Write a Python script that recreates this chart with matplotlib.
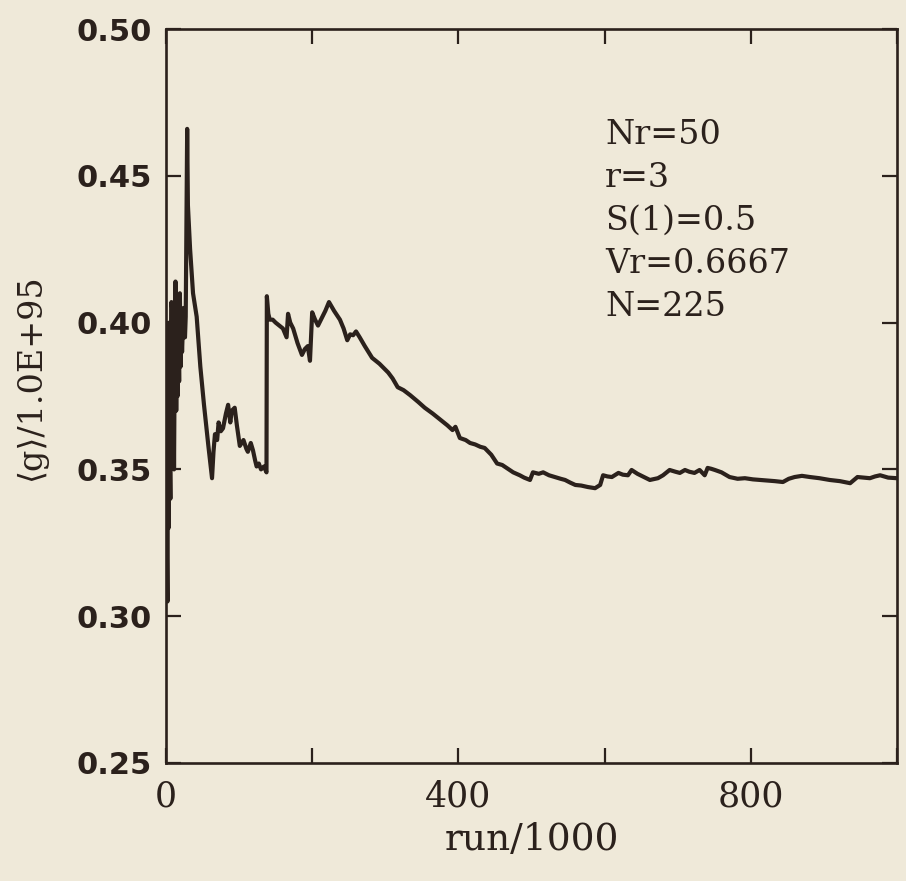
import matplotlib
matplotlib.use("Agg")
import matplotlib.pyplot as plt
import numpy as np

# running mean of g
run = [0, 0.5, 1, 1.5, 2, 2.5, 3, 3.5, 4, 4.5, 5, 5.5, 6, 6.5, 7, 7.5, 8, 8.5,
       9, 9.5, 10, 11, 12, 13, 14, 15, 16, 17, 18, 19,
       20, 21, 22, 23, 24, 25, 26, 27, 29, 30, 33, 37, 42, 47, 52, 58, 63,
       65, 67, 70, 72, 75, 78, 82, 85, 88, 90, 94, 97, 101, 106, 110, 112, 116,
       119, 122, 124, 127, 130, 134, 137.5,
       138, 140, 142, 146, 150, 155, 160, 165, 167, 170, 174, 180, 186, 190,
       194, 197, 200, 204, 208, 213, 218, 223,
       230, 238, 243, 248, 252, 256, 260, 265, 272, 282, 292, 304, 310, 317,
       325, 334, 345, 354, 365, 375, 385, 392, 396, 402, 410, 416,
       423, 430, 436, 445, 453, 460, 466, 475, 484, 490, 498, 502, 510, 516,
       524, 532, 540, 546, 553, 560, 568, 577, 587, 594,
       598, 604, 610, 619, 625, 632, 637, 645, 653, 662, 673, 680, 689, 697,
       703, 710, 716, 723, 730, 737, 741, 746, 751, 760, 771, 782, 792, 803,
       813, 822, 833, 844, 852, 860, 870, 881, 894, 908, 922, 936, 946, 955,
       963, 970, 977, 988, 1000]
g = [0.370, 0.400, 0.385, 0.320, 0.305, 0.390, 0.380, 0.330, 0.345, 0.400,
     0.395, 0.350, 0.340, 0.390, 0.385, 0.407, 0.405, 0.360, 0.370, 0.395,
     0.390, 0.350, 0.390, 0.414, 0.370, 0.400, 0.375, 0.395, 0.380, 0.410,
     0.385, 0.400, 0.390, 0.398, 0.405, 0.395, 0.395, 0.402, 0.466, 0.440,
     0.425, 0.410, 0.402, 0.385, 0.372, 0.358, 0.347,
     0.356, 0.362, 0.360, 0.366, 0.363, 0.364, 0.369, 0.372, 0.366, 0.370,
     0.371, 0.365, 0.358, 0.360, 0.357, 0.356, 0.359, 0.3565, 0.353, 0.351,
     0.352, 0.350, 0.351, 0.349,
     0.409, 0.403, 0.401, 0.401, 0.400, 0.399, 0.398, 0.395, 0.403, 0.400,
     0.398, 0.393, 0.389, 0.391, 0.392, 0.387, 0.4035, 0.401, 0.399, 0.4015,
     0.404, 0.407,
     0.404, 0.401, 0.398, 0.394, 0.396, 0.3957, 0.397, 0.395, 0.392, 0.388,
     0.386, 0.383, 0.381, 0.378, 0.377, 0.3753, 0.373, 0.371, 0.369, 0.367,
     0.365, 0.3634, 0.3645, 0.3607, 0.360, 0.359,
     0.3585, 0.3577, 0.3573, 0.355, 0.352, 0.3515, 0.3505, 0.349, 0.348,
     0.3472, 0.3464, 0.349, 0.3485, 0.349, 0.348, 0.3474, 0.3468, 0.3464,
     0.3455, 0.3447, 0.3445, 0.344, 0.3436, 0.3447,
     0.348, 0.3476, 0.3474, 0.3488, 0.3482, 0.348, 0.3498, 0.3485, 0.3475,
     0.3464, 0.347, 0.348, 0.3498, 0.3492, 0.3488, 0.3498, 0.3492, 0.3488,
     0.3498, 0.348, 0.3505, 0.3502, 0.3498, 0.349, 0.3474, 0.3468, 0.347,
     0.3466, 0.3464, 0.3462, 0.346, 0.3457, 0.3468, 0.3474, 0.3478, 0.3474,
     0.347, 0.3464, 0.346, 0.3453, 0.3474, 0.3472, 0.347, 0.3476, 0.348,
     0.3472, 0.347]

params = ["Nr=50", "r=3", "S(1)=0.5", "Vr=0.6667", "N=225"]

bg = "#efe9d9"
ink = "#2b211c"

fig = plt.figure(figsize=(9.06, 8.81), dpi=100, facecolor=bg)
ax = fig.add_axes([0.1832, 0.134, 0.8068, 0.833], facecolor=bg)

ax.plot(run, g, color=ink, lw=3.0, solid_joinstyle="round")

ax.set_xlim(0, 1000)
ax.set_ylim(0.25, 0.50)
ax.set_xticks([0, 200, 400, 600, 800, 1000])
ax.set_xticklabels(["0", "", "400", "", "800", ""])
ax.set_yticks([0.25, 0.30, 0.35, 0.40, 0.45, 0.50])
ax.set_yticklabels(["%.2f" % v for v in [0.25, 0.30, 0.35, 0.40, 0.45, 0.50]])

for s in ax.spines.values():
    s.set_linewidth(1.9)
    s.set_color(ink)

ax.tick_params(axis="both", direction="in", length=11, width=1.6, color=ink,
               top=True, right=True)
ax.tick_params(axis="x", pad=12, labelsize=25, labelcolor=ink)
ax.tick_params(axis="y", pad=10, labelsize=22, labelcolor=ink)
for lab in ax.get_yticklabels():
    lab.set_fontfamily("DejaVu Sans")
    lab.set_fontweight("bold")
for lab in ax.get_xticklabels():
    lab.set_fontfamily("DejaVu Serif")

ax.set_xlabel("run/1000", fontsize=27, family="DejaVu Serif", color=ink, labelpad=6)
fig.text(0.034, 0.571, "\u27e8g\u27e9/1.0E+95", rotation=90, fontsize=24,
         family=["DejaVu Serif", "DejaVu Sans"], color=ink, ha="center", va="center")

for i, t in enumerate(params):
    ax.text(0.601, 0.877 - i * 0.0585, t, transform=ax.transAxes, fontsize=24,
            family="DejaVu Serif", color=ink, va="top", ha="left")

fig.savefig("out.png", dpi=100, facecolor=bg)
